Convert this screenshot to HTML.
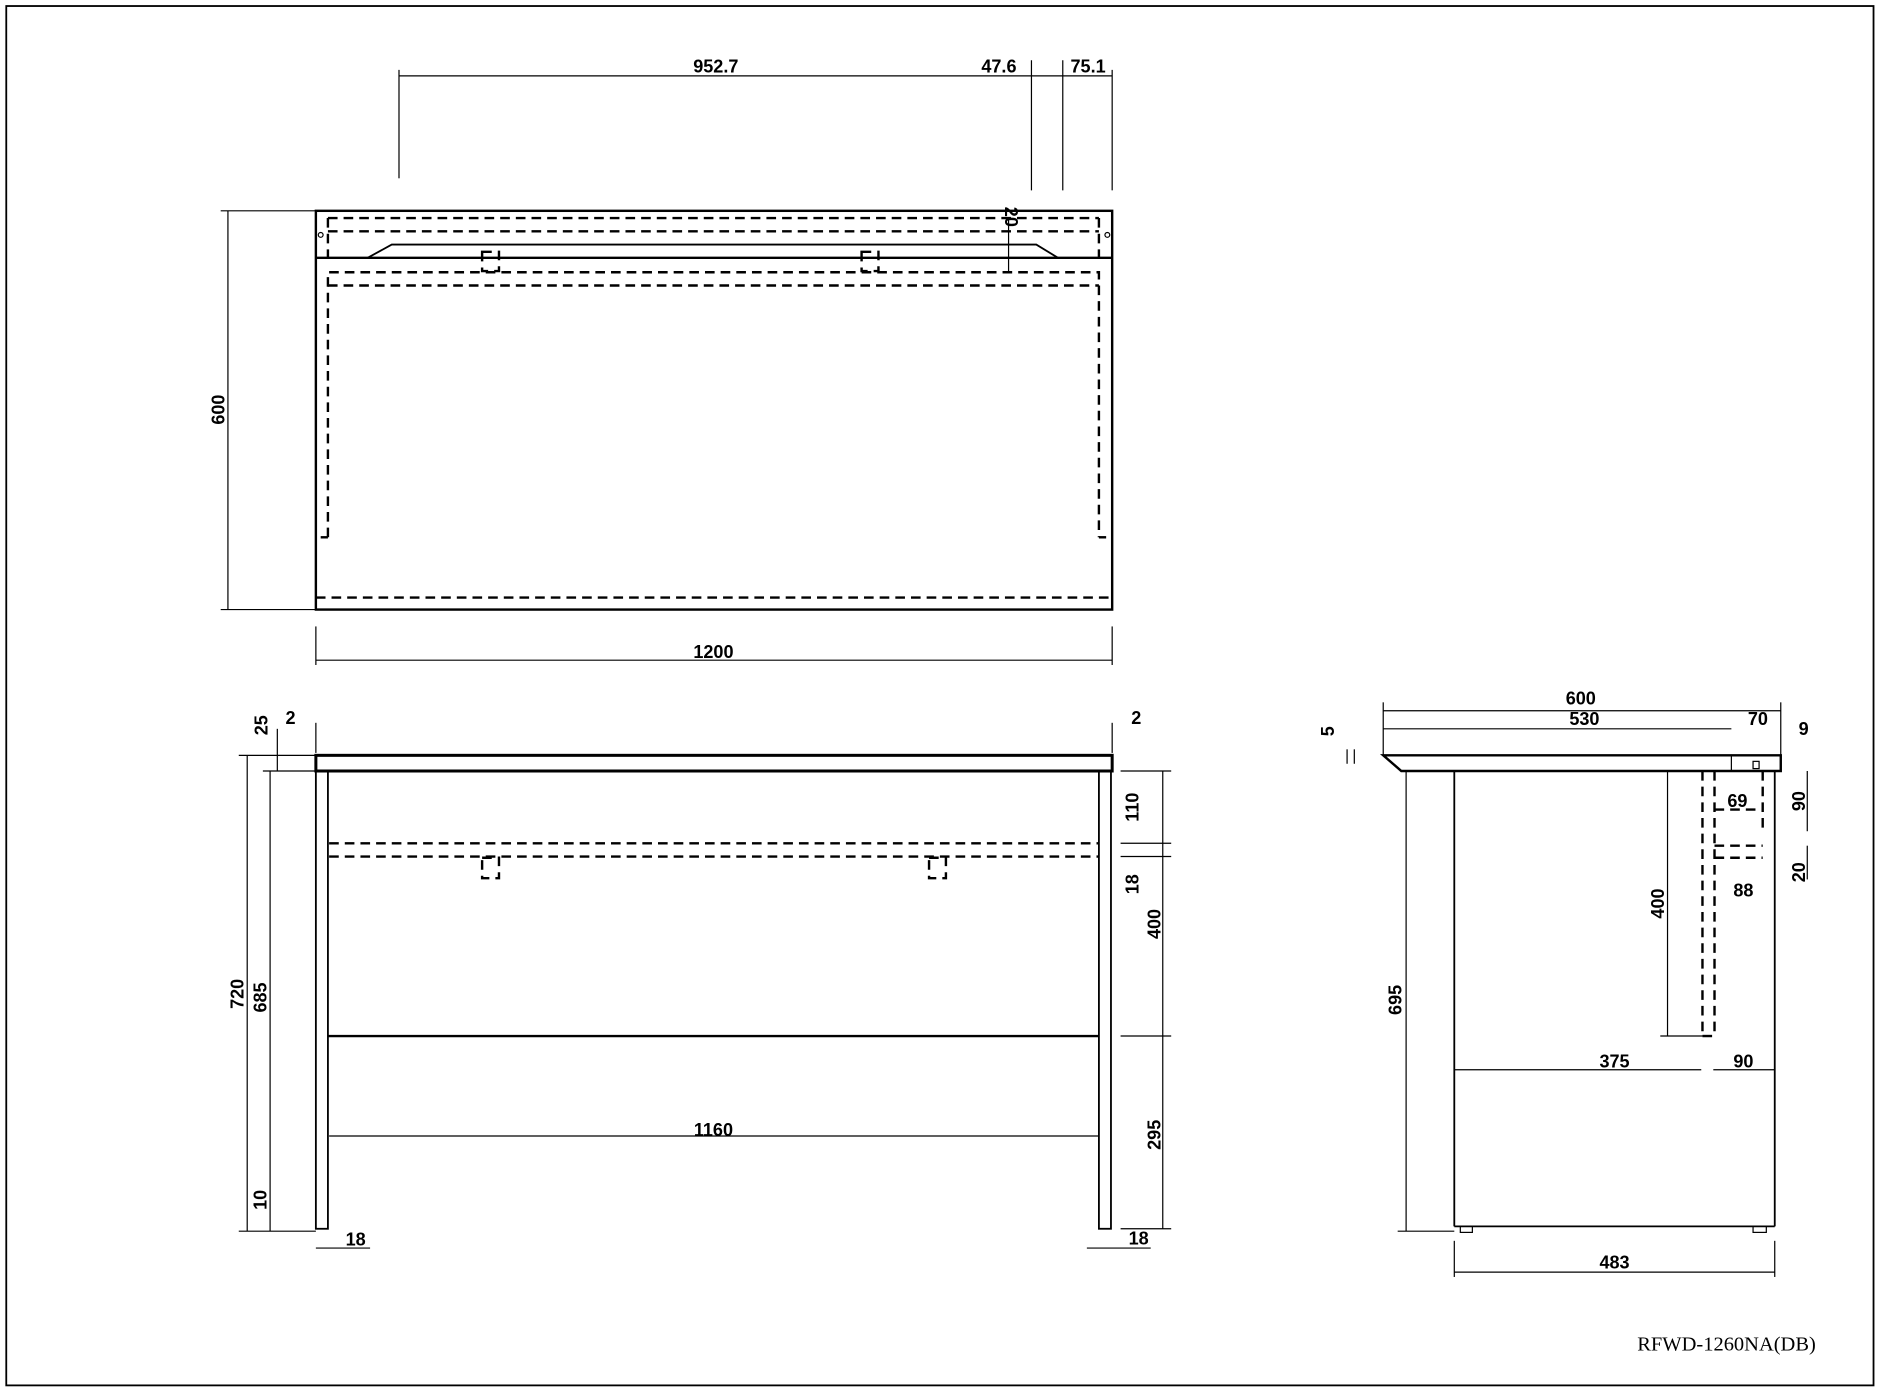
<!DOCTYPE html>
<html><head><meta charset="utf-8"><style>
html,body{margin:0;padding:0;background:#fff}
svg{display:block}
text{font-family:"Liberation Sans",sans-serif;font-weight:bold;font-size:15px;fill:#000}
.t{font-family:"Liberation Serif",serif;font-weight:normal;font-size:17px}
</style></head><body>
<svg width="1881" height="1389" viewBox="0 0 1561 1153" xmlns="http://www.w3.org/2000/svg">
<g fill="none" stroke="#000" stroke-width="1">
<rect x="5" y="5" width="1550" height="1145" stroke-width="1.5"/>
<!-- TOP VIEW -->
<rect x="262" y="175" width="661" height="331" stroke-width="2"/>
<line x1="262" y1="214" x2="923" y2="214" stroke-width="2"/>
<path d="M305 214 L325 203 L860 203 L878 214" stroke-width="1.5"/>
<g stroke-dasharray="8,5" stroke-width="2">
<line x1="272" y1="181" x2="912" y2="181"/>
<line x1="272" y1="192" x2="912" y2="192"/>
<path d="M272 446 L272 226 L912 226 L912 446"/>
<line x1="272" y1="237" x2="912" y2="237"/>
<line x1="262" y1="496" x2="923" y2="496"/>
<line x1="266" y1="446" x2="272" y2="446"/>
<line x1="912" y1="446" x2="918" y2="446"/>
<line x1="272" y1="181" x2="272" y2="214"/>
<line x1="912" y1="181" x2="912" y2="214"/>
<rect x="400" y="209" width="14" height="16"/>
<rect x="715" y="209" width="14" height="16"/>
</g>
<circle cx="266" cy="195" r="2"/><circle cx="919" cy="195" r="2"/>
<!-- top dims -->
<line x1="331" y1="63" x2="923" y2="63"/>
<line x1="331" y1="58" x2="331" y2="148"/>
<line x1="856" y1="50" x2="856" y2="158"/>
<line x1="882" y1="50" x2="882" y2="158"/>
<line x1="923" y1="58" x2="923" y2="158"/>
<line x1="837" y1="181" x2="837" y2="226"/>
<line x1="189" y1="175" x2="189" y2="506"/>
<line x1="183" y1="175" x2="262" y2="175"/><line x1="183" y1="506" x2="262" y2="506"/>
<line x1="262" y1="548" x2="923" y2="548"/>
<line x1="262" y1="520" x2="262" y2="552"/><line x1="923" y1="520" x2="923" y2="552"/>
<!-- FRONT VIEW -->
<rect x="262" y="627" width="661" height="13" stroke-width="2.5"/>
<rect x="262" y="640" width="10" height="380" stroke-width="1.5"/>
<rect x="912" y="640" width="10" height="380" stroke-width="1.5"/>
<line x1="272" y1="860" x2="912" y2="860" stroke-width="2"/>
<g stroke-dasharray="8,5" stroke-width="2">
<line x1="273" y1="700" x2="912" y2="700"/>
<line x1="273" y1="711" x2="912" y2="711"/>
<rect x="400" y="712" width="14" height="17"/>
<rect x="771" y="712" width="14" height="17"/>
</g>
<line x1="205" y1="627" x2="205" y2="1022"/>
<line x1="224" y1="640" x2="224" y2="1022"/>
<line x1="198" y1="627" x2="262" y2="627"/>
<line x1="218" y1="640" x2="262" y2="640"/>
<line x1="198" y1="1022" x2="262" y2="1022"/>
<line x1="230" y1="605" x2="230" y2="640"/>
<line x1="262" y1="600" x2="262" y2="625"/>
<line x1="923" y1="600" x2="923" y2="625"/>
<line x1="965" y1="640" x2="965" y2="1020"/>
<line x1="930" y1="640" x2="972" y2="640"/>
<line x1="930" y1="700" x2="972" y2="700"/>
<line x1="930" y1="711" x2="972" y2="711"/>
<line x1="930" y1="860" x2="972" y2="860"/>
<line x1="930" y1="1020" x2="972" y2="1020"/>
<line x1="273" y1="943" x2="912" y2="943"/>
<line x1="262" y1="1036" x2="307" y2="1036"/>
<line x1="902" y1="1036" x2="955" y2="1036"/>
<!-- SIDE VIEW -->
<path d="M1148 627 L1478 627 L1478 640 L1163 640 Z" stroke-width="2"/>
<line x1="1437" y1="627" x2="1437" y2="640"/>
<rect x="1455" y="632" width="5" height="6"/>
<line x1="1207" y1="640" x2="1207" y2="1018" stroke-width="1.5"/>
<line x1="1473" y1="640" x2="1473" y2="1018" stroke-width="1.5"/>
<line x1="1207" y1="1018" x2="1473" y2="1018" stroke-width="1.5"/>
<rect x="1212" y="1018" width="10" height="5"/>
<rect x="1455" y="1018" width="11" height="5"/>
<g stroke-dasharray="8,5" stroke-width="2">
<line x1="1413" y1="640" x2="1413" y2="860"/>
<line x1="1423" y1="640" x2="1423" y2="860"/>
<line x1="1413" y1="860" x2="1423" y2="860"/>
<line x1="1423" y1="672" x2="1463" y2="672"/>
<line x1="1423" y1="702" x2="1463" y2="702"/>
<line x1="1423" y1="712" x2="1463" y2="712"/>
<line x1="1463" y1="640" x2="1463" y2="690"/>
</g>
<line x1="1148" y1="590" x2="1478" y2="590"/>
<line x1="1148" y1="605" x2="1437" y2="605"/>
<line x1="1148" y1="583" x2="1148" y2="627"/>
<line x1="1478" y1="583" x2="1478" y2="627"/>
<line x1="1167" y1="640" x2="1167" y2="1022"/>
<line x1="1160" y1="1022" x2="1207" y2="1022"/>
<line x1="1384" y1="640" x2="1384" y2="860"/>
<line x1="1378" y1="860" x2="1413" y2="860"/>
<line x1="1207" y1="888" x2="1412" y2="888"/>
<line x1="1422" y1="888" x2="1473" y2="888"/>
<line x1="1207" y1="1056" x2="1473" y2="1056"/>
<line x1="1207" y1="1030" x2="1207" y2="1060"/>
<line x1="1473" y1="1030" x2="1473" y2="1060"/>
<line x1="1500" y1="640" x2="1500" y2="690"/>
<line x1="1500" y1="702" x2="1500" y2="730"/>
<line x1="1118" y1="622" x2="1118" y2="634"/>
<line x1="1124" y1="622" x2="1124" y2="634"/>
</g>
<text x="594" y="60" text-anchor="middle">952.7</text>
<text x="829" y="60" text-anchor="middle">47.6</text>
<text x="903" y="60" text-anchor="middle">75.1</text>
<text transform="translate(834,180) rotate(90)" text-anchor="middle">20</text>
<text transform="translate(186,340) rotate(-90)" text-anchor="middle">600</text>
<text x="592" y="546" text-anchor="middle">1200</text>
<text transform="translate(222,602) rotate(-90)" text-anchor="middle">25</text>
<text x="241" y="601" text-anchor="middle">2</text>
<text x="943" y="601" text-anchor="middle">2</text>
<text transform="translate(202,825) rotate(-90)" text-anchor="middle">720</text>
<text transform="translate(221,828) rotate(-90)" text-anchor="middle">685</text>
<text transform="translate(221,996) rotate(-90)" text-anchor="middle">10</text>
<text transform="translate(945,670) rotate(-90)" text-anchor="middle">110</text>
<text transform="translate(945,734) rotate(-90)" text-anchor="middle">18</text>
<text transform="translate(963,767) rotate(-90)" text-anchor="middle">400</text>
<text transform="translate(963,942) rotate(-90)" text-anchor="middle">295</text>
<text x="592" y="943" text-anchor="middle">1160</text>
<text x="295" y="1034" text-anchor="middle">18</text>
<text x="945" y="1033" text-anchor="middle">18</text>
<text x="1312" y="585" text-anchor="middle">600</text>
<text x="1315" y="602" text-anchor="middle">530</text>
<text x="1459" y="602" text-anchor="middle">70</text>
<text x="1497" y="610" text-anchor="middle">9</text>
<text transform="translate(1107,607) rotate(-90)" text-anchor="middle">5</text>
<text x="1442" y="670" text-anchor="middle">69</text>
<text transform="translate(1498,665) rotate(-90)" text-anchor="middle">90</text>
<text x="1447" y="744" text-anchor="middle">88</text>
<text transform="translate(1498,724) rotate(-90)" text-anchor="middle">20</text>
<text transform="translate(1381,750) rotate(-90)" text-anchor="middle">400</text>
<text transform="translate(1163,830) rotate(-90)" text-anchor="middle">695</text>
<text x="1340" y="886" text-anchor="middle">375</text>
<text x="1447" y="886" text-anchor="middle">90</text>
<text x="1340" y="1053" text-anchor="middle">483</text>
<text x="1433" y="1121" text-anchor="middle" class="t">RFWD-1260NA(DB)</text>
</svg>
</body></html>
